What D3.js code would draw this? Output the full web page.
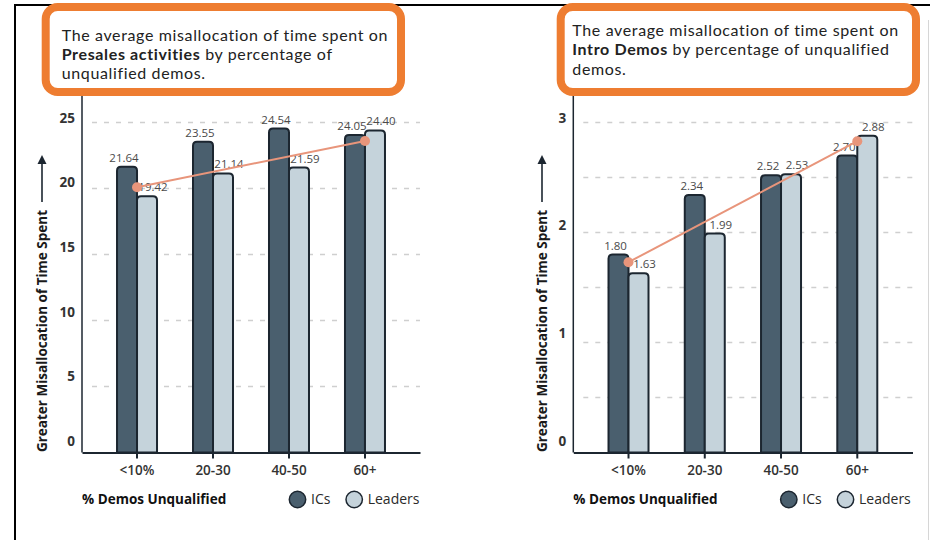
<!DOCTYPE html>
<html>
<head>
<meta charset="utf-8">
<script src="https://cdn.jsdelivr.net/npm/d3@7"></script>
<style>
  html, body { margin: 0; padding: 0; background: #fff; }
  svg { display: block; font-family: "Open Sans", "DejaVu Sans", sans-serif; }
</style>
</head>
<body>
<svg id="chart" width="930" height="540"></svg>
<script>
// ---- data ----
const categories = ["<10%", "20-30", "40-50", "60+"];
const seriesNames = ["ICs", "Leaders"];

const presalesICs = [21.64, 23.55, 24.54, 24.05];
const presalesLeaders = [19.42, 21.14, 21.59, 24.40];
const presalesTrend = [20.1, 23.6];          // trend line value at first and last group
const presalesTicks = [0, 5, 10, 15, 20, 25];
const presalesGrid = [5, 10, 15, 20, 25];

const demoICs = [1.80, 2.34, 2.52, 2.70];
const demoLeaders = [1.63, 1.99, 2.53, 2.88];
const demoTrend = [1.73, 2.83];
const demoTicks = [0, 1, 2, 3];
const demoGrid = [0.5, 1, 1.5, 2, 2.5, 3];

const presalesTitle = [
  [{ t: "The average misallocation of time spent on" }],
  [{ t: "Presales activities", b: true }, { t: " by percentage of" }],
  [{ t: "unqualified demos." }]
];
const demoTitle = [
  [{ t: "The average misallocation of time spent on" }],
  [{ t: "Intro Demos", b: true }, { t: " by percentage of unqualified" }],
  [{ t: "demos." }]
];
const yTitle = "Greater Misallocation of Time Spent";
const xTitle = "% Demos Unqualified";

// ---- style ----
const COL = {
  ICs: "#4a5f6e",
  Leaders: "#c5d3db",
  outline: "#1c2630",
  orange: "#ee7d31",
  trend: "#e8957b",
  grid: "#cfcfcf",
  text: "#2a2a2a",
  value: "#4a4a4a"
};

const svg = d3.select("#chart");

// page frame
svg.append("line").attr("x1", 15).attr("x2", 15).attr("y1", 4).attr("y2", 540)
  .attr("stroke", "#000").attr("stroke-width", 2);
svg.append("line").attr("x1", 14).attr("x2", 930).attr("y1", 5).attr("y2", 5)
  .attr("stroke", "#000").attr("stroke-width", 2);
svg.append("line").attr("x1", 928.5).attr("x2", 928.5).attr("y1", 20).attr("y2", 540)
  .attr("stroke", "#d6d6d6").attr("stroke-width", 1);

function barPath(x0, w, yTop, yBot, r) {
  r = Math.min(r, (yBot - yTop));
  return `M${x0},${yBot}V${yTop + r}Q${x0},${yTop} ${x0 + r},${yTop}` +
         `H${x0 + w - r}Q${x0 + w},${yTop} ${x0 + w},${yTop + r}V${yBot}Z`;
}

function drawPanel(cfg) {
  const g = svg.append("g");
  const yBase = 452.5;

  const x = d3.scaleBand().domain(categories)
    .range([cfg.x0, cfg.x1]).paddingInner(0).paddingOuter(0.224);
  const cx = c => x(c) + x.bandwidth() / 2;
  const sub = d3.scaleBand().domain(seriesNames).range([-20, 20]);
  const y = d3.scaleLinear().domain([0, cfg.yTop]).range([yBase, 122.5]);
  const yLab = d3.scaleLinear().domain([0, cfg.yTop]).range([441, 118]);

  // dashed gridlines
  g.append("g").selectAll("line").data(cfg.grid).join("line")
    .attr("x1", cfg.x0 + 10).attr("x2", cfg.x1)
    .attr("y1", d => y(d)).attr("y2", d => y(d))
    .attr("stroke", COL.grid).attr("stroke-width", 1.3)
    .attr("stroke-dasharray", "5,7");

  // y tick labels
  const ya = g.append("g").attr("transform", `translate(${cfg.x0},0)`)
    .call(d3.axisLeft(yLab).tickValues(cfg.ticks).tickSize(0).tickPadding(7).tickFormat(d3.format("d")));
  ya.select(".domain").remove();
  ya.selectAll("text").attr("font-size", 13.5).attr("font-weight", 700).attr("fill", "#333")
    .attr("font-family", "'Open Sans', sans-serif");

  // y axis line
  g.append("line").attr("x1", cfg.x0).attr("x2", cfg.x0).attr("y1", 95).attr("y2", yBase)
    .attr("stroke", COL.outline).attr("stroke-width", 1.5);

  // bars
  const rows = [];
  categories.forEach((c, i) => {
    rows.push({ c, s: "ICs", v: cfg.ics[i] });
    rows.push({ c, s: "Leaders", v: cfg.leaders[i] });
  });
  g.append("g").selectAll("path").data(rows).join("path")
    .attr("d", d => barPath(cx(d.c) + sub(d.s), sub.bandwidth(), y(d.v), yBase, 4))
    .attr("fill", d => COL[d.s])
    .attr("stroke", COL.outline).attr("stroke-width", 2);

  // value labels
  g.append("g").selectAll("text").data(rows).join("text")
    .attr("x", d => cx(d.c) + sub(d.s) + sub.bandwidth() / 2 + (d.s === "ICs" ? -3 : 6))
    .attr("y", d => y(d.v) - 5)
    .attr("text-anchor", "middle").attr("font-size", 11.5).attr("fill", COL.value)
    .text(d => d.v.toFixed(2));

  // x axis
  const xa = g.append("g").attr("transform", `translate(0,${yBase})`)
    .call(d3.axisBottom(x).tickSize(6).tickSizeOuter(0).tickPadding(7));
  xa.select(".domain").attr("stroke", COL.outline).attr("stroke-width", 2);
  xa.selectAll(".tick line").attr("stroke", COL.outline).attr("stroke-width", 2);
  xa.selectAll("text").attr("font-size", 13.5).attr("font-weight", 600).attr("fill", "#333")
    .attr("font-family", "'Open Sans', sans-serif");

  // trend line
  const tp = [categories[0], categories[categories.length - 1]].map((c, i) => [cx(c), y(cfg.trend[i])]);
  g.append("path").attr("d", d3.line()(tp)).attr("stroke", COL.trend).attr("stroke-width", 2).attr("fill", "none");
  g.append("g").selectAll("circle").data(tp).join("circle")
    .attr("cx", d => d[0]).attr("cy", d => d[1]).attr("r", 5).attr("fill", COL.trend);

  // y title with arrow
  g.append("text")
    .attr("transform", `translate(${cfg.yTitleX + 4.8},331) rotate(-90)`)
    .attr("text-anchor", "middle").attr("font-size", 13.5).attr("font-weight", 700).attr("fill", "#1a1a1a")
    .text(yTitle);
  g.append("line").attr("x1", cfg.yTitleX).attr("x2", cfg.yTitleX).attr("y1", 202).attr("y2", 162)
    .attr("stroke", COL.outline).attr("stroke-width", 1.6);
  g.append("path")
    .attr("d", `M${cfg.yTitleX},155L${cfg.yTitleX + 4.5},164L${cfg.yTitleX - 4.5},164Z`)
    .attr("fill", COL.outline);

  // x title
  g.append("text").attr("x", cfg.x0).attr("y", 504)
    .attr("font-size", 13.5).attr("font-weight", 700).attr("fill", "#111")
    .text(xTitle);

  // legend
  const lg = g.append("g").selectAll("g").data(seriesNames).join("g")
    .attr("transform", (d, i) => `translate(${cfg.x0 + 215.5 + i * 56.7},499.5)`);
  lg.append("circle").attr("r", 8.2).attr("fill", d => COL[d])
    .attr("stroke", COL.outline).attr("stroke-width", 1.5);
  lg.append("text").attr("x", 13.5).attr("y", 4.8).attr("font-size", 14).attr("font-weight", 500)
    .attr("fill", COL.text).text(d => d);

  // title box
  svg.append("rect").attr("x", cfg.boxX).attr("y", 7).attr("width", 355.3).attr("height", 85)
    .attr("rx", 12).attr("fill", "#fff").attr("stroke", COL.orange).attr("stroke-width", 8);
  const tt = svg.append("g").attr("font-family", "Lato, sans-serif").attr("font-size", 16).attr("fill", "#222");
  const lines = cfg.title.map((line, i) => {
    const t = tt.append("text").attr("x", cfg.titleX).attr("y", cfg.titleY + i * 19.3);
    line.forEach(seg => t.append("tspan").attr("font-weight", seg.b ? 700 : 400).text(seg.t));
    return t;
  });
  // widen the tracking so the first line spans the box's text width
  const first = lines[0].node();
  const n = first.textContent.length;
  const ls = (cfg.titleWidth - first.getComputedTextLength()) / n;
  tt.attr("letter-spacing", Math.max(0, ls));
}

drawPanel({
  x0: 82, x1: 420, yTop: 25,
  ics: presalesICs, leaders: presalesLeaders, trend: presalesTrend,
  ticks: presalesTicks, grid: presalesGrid,
  yTitleX: 42, boxX: 45.7, titleX: 61.7, titleY: 40.5, titleWidth: 327, title: presalesTitle
});
drawPanel({
  x0: 573.3, x1: 912.5, yTop: 3,
  ics: demoICs, leaders: demoLeaders, trend: demoTrend,
  ticks: demoTicks, grid: demoGrid,
  yTitleX: 542, boxX: 560.7, titleX: 572.3, titleY: 36, titleWidth: 327, title: demoTitle
});
</script>
</body>
</html>
